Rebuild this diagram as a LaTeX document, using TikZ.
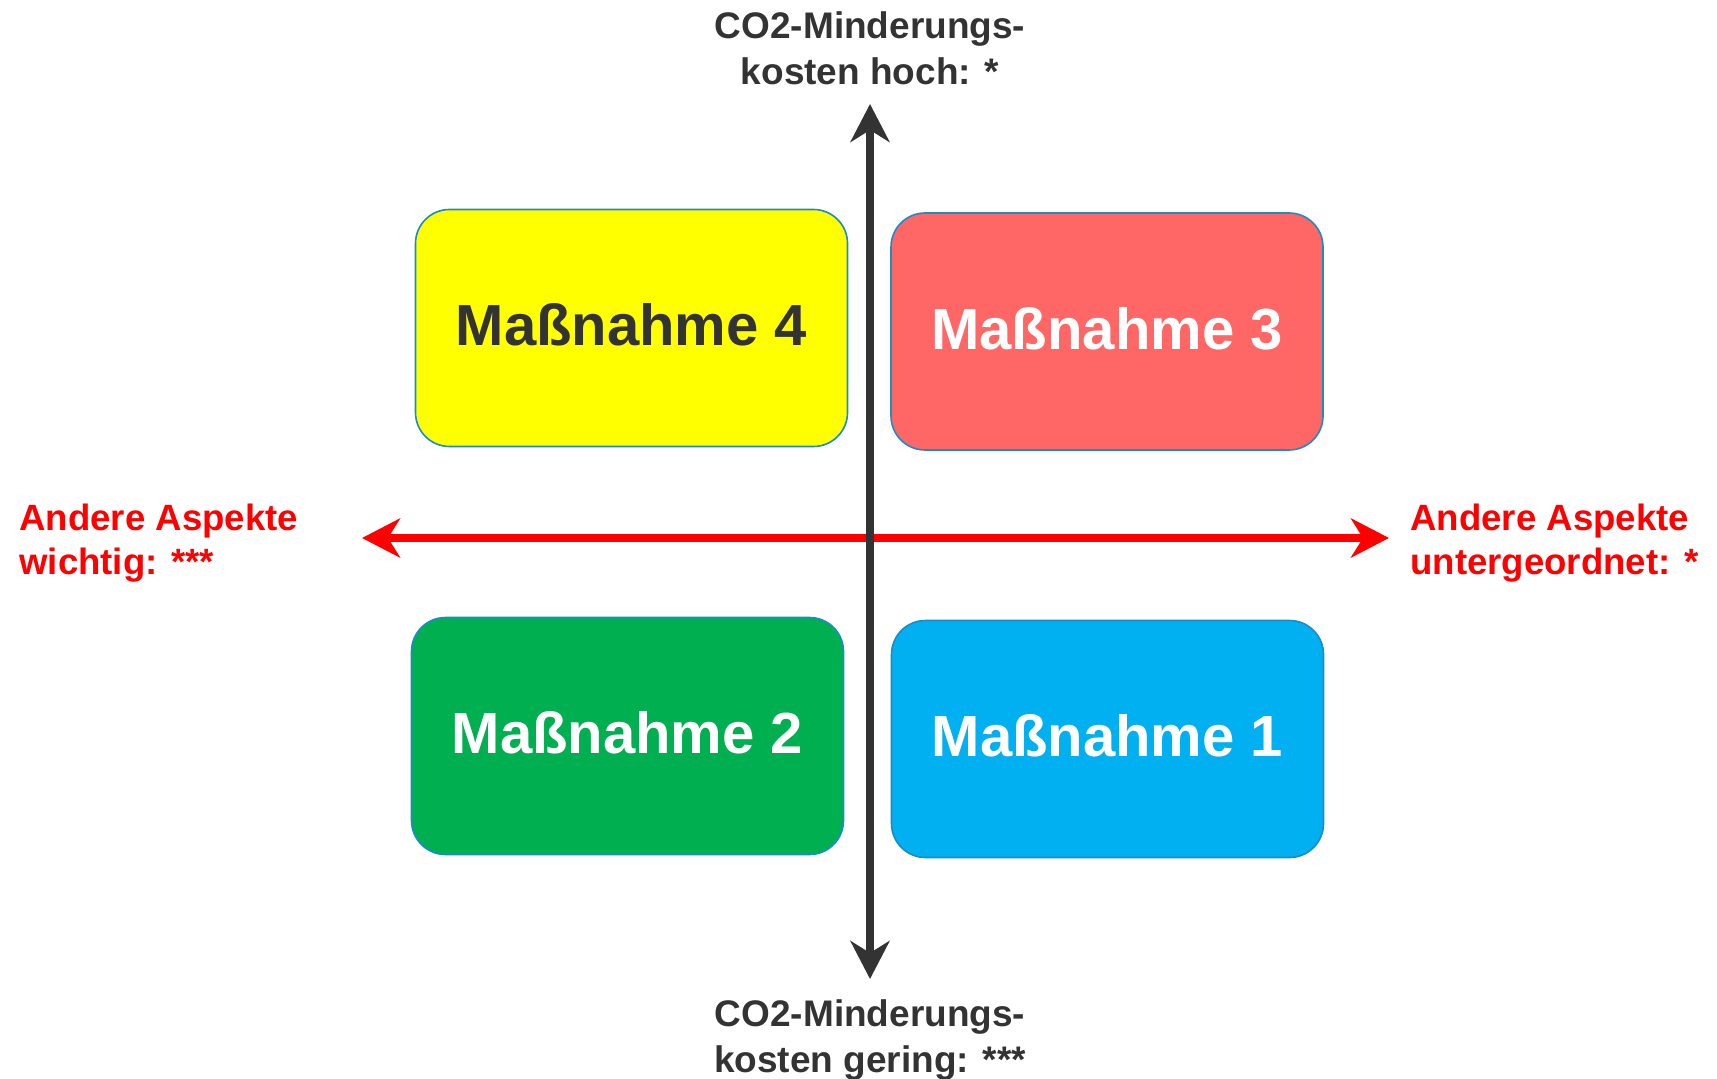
\documentclass[tikz,border=0pt]{standalone}
\usepackage{fontspec}
\setmainfont{Liberation Sans}
\usepackage{tikz}
\usetikzlibrary{positioning}
\usetikzlibrary{arrows.meta}
\definecolor{darkaxis}{HTML}{333333}
\definecolor{boxline}{HTML}{1A8CC8}
\definecolor{mgelb}{HTML}{FFFF00}
\definecolor{mrot}{HTML}{FF6666}
\definecolor{mgruen}{HTML}{00B050}
\definecolor{mblau}{HTML}{00B0F0}

\begin{document}
\begin{tikzpicture}[x=0.5pt,y=-0.5pt,
		massbox/.style={draw=boxline, line width=0.8pt, rounded corners=17pt,
			minimum width=216pt, minimum height=118.5pt, inner sep=0pt, text depth=3.5pt,
			font=\fontsize{29}{34}\selectfont\bfseries, text=white},
		axislabel/.style={font=\fontsize{18.5}{23}\selectfont\bfseries, inner sep=0pt},
		sidelabel/.style={font=\fontsize{18.3}{22}\selectfont\bfseries, inner sep=0pt, text=red, align=left, anchor=west},
		axisarrow/.style={line width=4pt, {Stealth[length=19pt,width=19.5pt,inset=6pt]}-{Stealth[length=19pt,width=19.5pt,inset=6pt]}}]
		\useasboundingbox (0,0) rectangle (1717,1079);
		% axes
		\coordinate (kLeft) at (362,538);
		\coordinate (kRight) at (1389,538);
		\coordinate (kTop) at (870,104);
		\coordinate (kBottom) at (870,979);
		\draw [axisarrow, red] (kLeft) -- (kRight);
		\draw [axisarrow, darkaxis] (kBottom) -- (kTop);
		% axis labels
		\node [axislabel, text=darkaxis, align=center] at (870,48) (lblTop) {CO2-Minderungs-\\kosten hoch: *};
		\node [axislabel, text=darkaxis, align=center] at (870,1040) (lblBottom) {CO2-Minderungs-\\kosten gering: ***};
		\node [sidelabel] at (19,543) (lblLeft) {Andere Aspekte\\wichtig: ***};
		\node [sidelabel] at (1410,543) (lblRight) {Andere Aspekte\\untergeordnet: *};
		% measures
		\node [massbox, fill=mgelb, text=darkaxis] at (631.5,328) (m4) {Maßnahme 4};
		\node [massbox, fill=mrot] at (1107,331.5) (m3) {Maßnahme 3};
		\node [massbox, fill=mgruen] at (627.5,736) (m2) {Maßnahme 2};
		\node [massbox, fill=mblau] at (1107.5,739) (m1) {Maßnahme 1};
\end{tikzpicture}
\end{document}
